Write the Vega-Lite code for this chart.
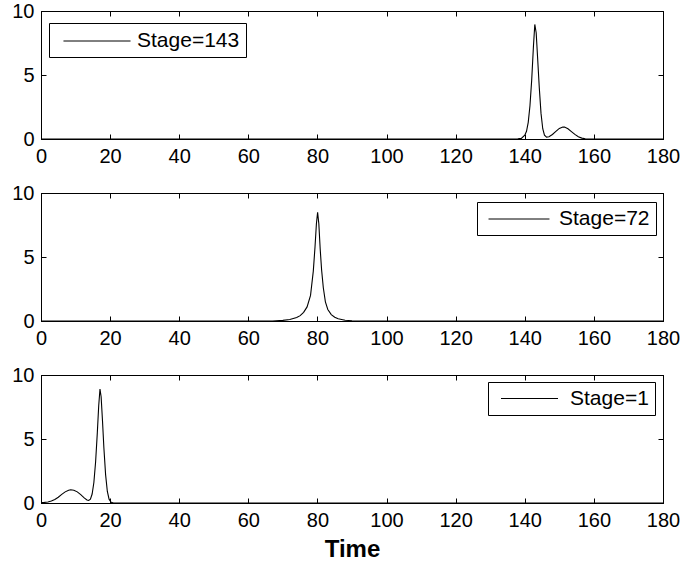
{
  "$schema": "https://vega.github.io/schema/vega-lite/v6.json",
  "background": "white",
  "padding": {"left": 11, "top": 0, "right": 5, "bottom": 5},
  "bounds": "flush",
  "spacing": 54,
  "datasets": {
    "s143": [
      {"t": 0, "v": 0}, {"t": 135, "v": 0}, {"t": 138, "v": 0.01}, {"t": 139, "v": 0.05},
      {"t": 140, "v": 0.3}, {"t": 140.5, "v": 0.6}, {"t": 141, "v": 1.3}, {"t": 141.5, "v": 2.6},
      {"t": 142, "v": 4.6}, {"t": 142.5, "v": 7.2}, {"t": 142.9, "v": 8.95}, {"t": 143.3, "v": 8.3},
      {"t": 143.7, "v": 6.4}, {"t": 144.2, "v": 4.0}, {"t": 144.7, "v": 2.0}, {"t": 145.2, "v": 0.8},
      {"t": 145.7, "v": 0.3}, {"t": 146.3, "v": 0.15}, {"t": 147, "v": 0.18}, {"t": 148, "v": 0.35},
      {"t": 149, "v": 0.6}, {"t": 150, "v": 0.83}, {"t": 151, "v": 0.94}, {"t": 151.5, "v": 0.93},
      {"t": 152.5, "v": 0.8}, {"t": 153.5, "v": 0.58}, {"t": 154.5, "v": 0.36}, {"t": 155.5, "v": 0.18},
      {"t": 156.5, "v": 0.07}, {"t": 157.5, "v": 0.02}, {"t": 159, "v": 0}, {"t": 180, "v": 0}
    ],
    "s72": [
      {"t": 0, "v": 0}, {"t": 67, "v": 0}, {"t": 70, "v": 0.05}, {"t": 72, "v": 0.12},
      {"t": 74, "v": 0.27}, {"t": 75, "v": 0.42}, {"t": 76, "v": 0.68}, {"t": 77, "v": 1.1},
      {"t": 78, "v": 2.0}, {"t": 78.8, "v": 3.9}, {"t": 79.3, "v": 5.8}, {"t": 79.7, "v": 7.6},
      {"t": 80.05, "v": 8.5}, {"t": 80.4, "v": 7.6}, {"t": 80.8, "v": 5.6}, {"t": 81.2, "v": 4.0},
      {"t": 81.7, "v": 2.6}, {"t": 82.3, "v": 1.5}, {"t": 83, "v": 0.9}, {"t": 84, "v": 0.5},
      {"t": 85, "v": 0.3}, {"t": 86, "v": 0.18}, {"t": 88, "v": 0.06}, {"t": 90, "v": 0.02},
      {"t": 92, "v": 0}, {"t": 180, "v": 0}
    ],
    "s1": [
      {"t": 0, "v": 0.03}, {"t": 1, "v": 0.05}, {"t": 2, "v": 0.08}, {"t": 3, "v": 0.15},
      {"t": 4, "v": 0.27}, {"t": 5, "v": 0.45}, {"t": 6, "v": 0.67}, {"t": 7, "v": 0.87},
      {"t": 8, "v": 1.0}, {"t": 8.6, "v": 1.04}, {"t": 9.5, "v": 1.0}, {"t": 10.5, "v": 0.87},
      {"t": 11.5, "v": 0.65}, {"t": 12.5, "v": 0.4}, {"t": 13.3, "v": 0.24}, {"t": 13.8, "v": 0.2},
      {"t": 14.3, "v": 0.3}, {"t": 14.8, "v": 0.7}, {"t": 15.3, "v": 1.6}, {"t": 15.8, "v": 3.2},
      {"t": 16.3, "v": 5.5}, {"t": 16.7, "v": 7.6}, {"t": 17.07, "v": 8.9}, {"t": 17.4, "v": 8.3},
      {"t": 17.8, "v": 6.4}, {"t": 18.2, "v": 4.3}, {"t": 18.7, "v": 2.2}, {"t": 19.2, "v": 0.9},
      {"t": 19.7, "v": 0.3}, {"t": 20.3, "v": 0.05}, {"t": 21, "v": 0}, {"t": 180, "v": 0}
    ]
  },
  "vconcat": [
    {
      "width": 622, "height": 128,
      "data": {"name": "s143"},
      "layer": [
        {
          "mark": {"type": "line", "strokeWidth": 1.1},
          "encoding": {
            "x": {"field": "t", "type": "quantitative", "scale": {"domain": [0, 180], "nice": false, "zero": false}, "axis": {"orient": "bottom", "values": [0, 20, 40, 60, 80, 100, 120, 140, 160, 180], "title": null}},
            "y": {"field": "v", "type": "quantitative", "scale": {"domain": [0, 10], "nice": false}, "axis": {"orient": "left", "values": [0, 5, 10], "title": null}},
            "color": {"datum": "Stage=143", "scale": {"range": ["black"]}, "legend": {"orient": "none", "legendX": 8, "legendY": 12, "symbolSize": 500, "symbolOffset": 30, "labelOffset": 28, "labelExpr": "datum.label + '\u2002'"}}
          }
        },
        {
          "mark": {"type": "line", "opacity": 0},
          "encoding": {
            "x": {"field": "t", "type": "quantitative", "scale": {"domain": [0, 180], "nice": false, "zero": false}, "axis": {"orient": "top", "values": [0, 20, 40, 60, 80, 100, 120, 140, 160, 180], "labels": false, "title": null}},
            "y": {"field": "v", "type": "quantitative", "scale": {"domain": [0, 10], "nice": false}, "axis": {"orient": "right", "values": [0, 5, 10], "labels": false, "title": null}}
          }
        }
      ],
      "resolve": {"axis": {"x": "independent", "y": "independent"}}
    },
    {
      "width": 622, "height": 128,
      "data": {"name": "s72"},
      "layer": [
        {
          "mark": {"type": "line", "strokeWidth": 1.1},
          "encoding": {
            "x": {"field": "t", "type": "quantitative", "scale": {"domain": [0, 180], "nice": false, "zero": false}, "axis": {"orient": "bottom", "values": [0, 20, 40, 60, 80, 100, 120, 140, 160, 180], "title": null}},
            "y": {"field": "v", "type": "quantitative", "scale": {"domain": [0, 10], "nice": false}, "axis": {"orient": "left", "values": [0, 5, 10], "title": null}},
            "color": {"datum": "Stage=72", "scale": {"range": ["black"]}, "legend": {"orient": "none", "legendX": 436, "legendY": 9, "symbolSize": 413, "symbolOffset": 25, "labelOffset": 29, "labelExpr": "datum.label + '\u2005'"}}
          }
        },
        {
          "mark": {"type": "line", "opacity": 0},
          "encoding": {
            "x": {"field": "t", "type": "quantitative", "scale": {"domain": [0, 180], "nice": false, "zero": false}, "axis": {"orient": "top", "values": [0, 20, 40, 60, 80, 100, 120, 140, 160, 180], "labels": false, "title": null}},
            "y": {"field": "v", "type": "quantitative", "scale": {"domain": [0, 10], "nice": false}, "axis": {"orient": "right", "values": [0, 5, 10], "labels": false, "title": null}}
          }
        }
      ],
      "resolve": {"axis": {"x": "independent", "y": "independent"}}
    },
    {
      "width": 622, "height": 128,
      "data": {"name": "s1"},
      "layer": [
        {
          "mark": {"type": "line", "strokeWidth": 1.1},
          "encoding": {
            "x": {"field": "t", "type": "quantitative", "scale": {"domain": [0, 180], "nice": false, "zero": false}, "axis": {"orient": "bottom", "values": [0, 20, 40, 60, 80, 100, 120, 140, 160, 180], "title": "Time", "titleFont": "Liberation Sans", "titleFontSize": 24, "titleFontWeight": "bold", "titlePadding": 7}},
            "y": {"field": "v", "type": "quantitative", "scale": {"domain": [0, 10], "nice": false}, "axis": {"orient": "left", "values": [0, 5, 10], "title": null}},
            "color": {"datum": "Stage=1", "scale": {"range": ["black"]}, "legend": {"orient": "none", "legendX": 447, "legendY": 7, "symbolSize": 361, "symbolOffset": 25, "labelOffset": 30, "labelExpr": "datum.label + '\u2004'"}}
          }
        },
        {
          "mark": {"type": "line", "opacity": 0},
          "encoding": {
            "x": {"field": "t", "type": "quantitative", "scale": {"domain": [0, 180], "nice": false, "zero": false}, "axis": {"orient": "top", "values": [0, 20, 40, 60, 80, 100, 120, 140, 160, 180], "labels": false, "title": null}},
            "y": {"field": "v", "type": "quantitative", "scale": {"domain": [0, 10], "nice": false}, "axis": {"orient": "right", "values": [0, 5, 10], "labels": false, "title": null}}
          }
        }
      ],
      "resolve": {"axis": {"x": "independent", "y": "independent"}}
    }
  ],
  "resolve": {"scale": {"color": "independent"}},
  "config": {
    "font": "Liberation Sans",
    "view": {"stroke": "black", "strokeWidth": 1},
    "axis": {
      "grid": false,
      "domainColor": "black",
      "domainWidth": 1,
      "tickColor": "black",
      "tickSize": -5,
      "labelColor": "black",
      "labelFont": "Liberation Sans",
      "labelFontSize": 20,
      "labelFlush": false,
      "labelOverlap": false,
      "labelPadding": 12,
      "titleColor": "black"
    },
    "legend": {
      "fillColor": "white",
      "strokeColor": "black",
      "padding": 6,
      "symbolType": "M-3,0H3",
      "symbolStrokeWidth": 1,
      "symbolStrokeColor": "black",
      "symbolFillColor": "transparent",
      "labelFont": "Liberation Sans",
      "labelFontSize": 21,
      "labelColor": "black",
      "labelLimit": 300,
      "title": null
    }
  }
}
